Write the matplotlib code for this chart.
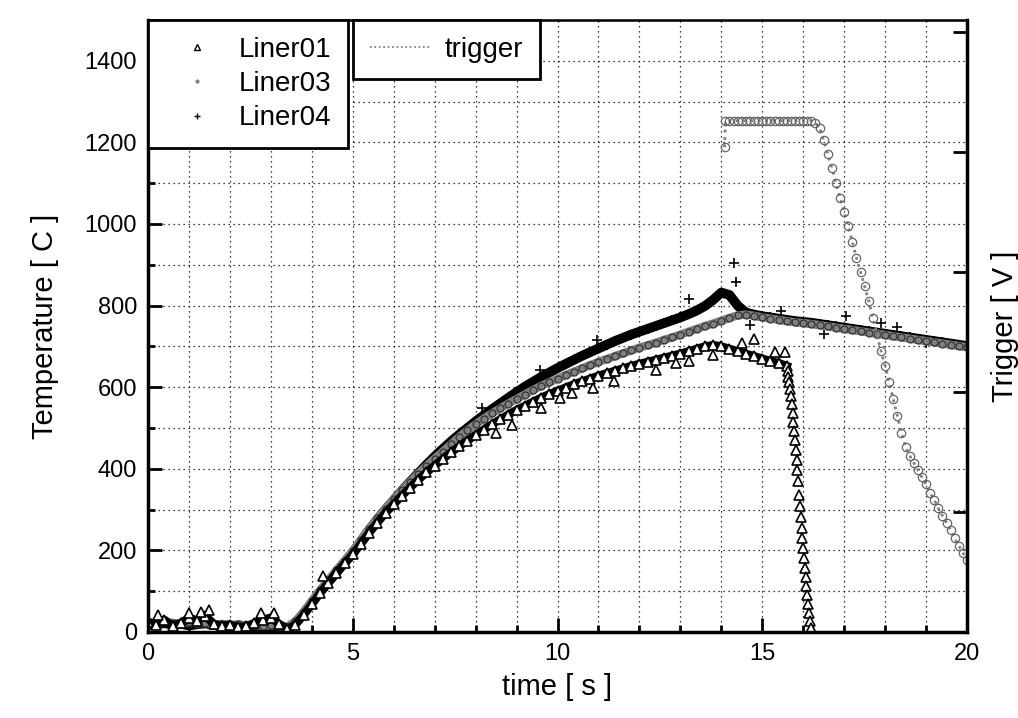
import numpy as np
import matplotlib
matplotlib.use("Agg")
import matplotlib.pyplot as plt
from matplotlib.lines import Line2D
from matplotlib.ticker import MultipleLocator, NullFormatter

plt.rcParams["font.family"] = ["Liberation Sans", "DejaVu Sans"]

# thermocouple readings, sampled every 0.2 s
t_grid = np.round(np.arange(0, 20.001, 0.2), 1)

liner04 = [20, 18, 22, 17, 20, 16, 19, 21, 17, 15,
           16, 14, 15, 13, 14, 12, 11, 10, 22, 45,
           72, 98, 122, 146, 170, 194, 222, 250, 276, 300,
           323, 346, 368, 389, 410, 430, 449, 467, 484, 500,
           516, 531, 546, 560, 574, 588, 601, 613, 625, 636,
           647, 657, 667, 677, 686, 695, 704, 713, 721, 729,
           736, 743, 750, 757, 764, 771, 779, 788, 799, 814,
           832, 826, 800, 783, 778, 774, 771, 768, 765, 762,
           760, 758, 755, 752, 749, 746, 743, 740, 737, 734,
           731, 728, 725, 722, 719, 716, 713, 710, 707, 704,
           701]

liner03 = [24, 20, 26, 22, 19, 25, 21, 23, 18, 20,
           17, 19, 16, 18, 15, 17, 14, 13, 26, 50,
           76, 102, 127, 151, 175, 199, 226, 253, 279, 302,
           325, 347, 368, 388, 407, 425, 442, 460, 478, 494,
           509, 523, 536, 548, 560, 571, 582, 593, 603, 612,
           621, 630, 638, 646, 654, 662, 669, 676, 683, 690,
           697, 703, 709, 716, 722, 729, 736, 743, 750, 756,
           763, 770, 776, 778, 775, 771, 768, 765, 762, 759,
           757, 755, 752, 749, 746, 743, 740, 737, 734, 731,
           728, 725, 722, 719, 716, 713, 710, 707, 704, 701,
           698]

# Liner01 until 15.6 s, then the fast drop
liner01 = [25, 18, 30, 15, 22, 35, 28, 40, 20, 15,
           18, 12, 14, 22, 30, 35, 20, 8, 18, 42,
           68, 95, 120, 145, 168, 190, 216, 243, 268, 292,
           313, 334, 354, 373, 391, 408, 424, 440, 455, 469,
           483, 496, 509, 521, 533, 544, 554, 564, 574, 583,
           591, 599, 607, 614, 621, 628, 634, 640, 646, 652,
           657, 662, 667, 672, 677, 682, 688, 694, 700, 703,
           700, 694, 688, 682, 676, 670, 664, 659, 652]
liner01_drop_t = [15.62, 15.64, 15.66, 15.68, 15.70, 15.72, 15.74, 15.76, 15.78, 15.80,
                  15.82, 15.84, 15.86, 15.88, 15.90, 15.92, 15.94, 15.96, 15.98, 16.00,
                  16.02, 16.04, 16.06, 16.08, 16.10, 16.12, 16.14, 16.16, 16.18]
liner01_drop_v = [640, 626, 612, 596, 578, 558, 536, 514, 492, 470,
                  446, 422, 396, 370, 335, 308, 282, 256, 230, 205,
                  181, 158, 135, 112, 90, 68, 47, 27, 10]

# scattered single readings off the main band
liner01_extra_t = [0.25, 1.0, 1.3, 1.5, 2.75, 3.07, 4.27, 8.5, 8.9, 9.6, 10.06, 10.35,
                   10.87, 11.37, 12.4, 12.9, 13.2, 13.8, 14.5, 14.8, 15.3, 15.55]
liner01_extra_v = [42, 46, 49, 54, 46, 46, 138, 488, 508, 549, 574, 587,
                   599, 614, 643, 660, 663, 680, 709, 717, 687, 687]
liner04_extra_t = [8.15, 9.57, 10.96, 13.2, 14.3, 14.36, 14.7, 15.45, 16.5, 17.05, 17.9, 18.3, 19.0]
liner04_extra_v = [550, 643, 716, 815, 905, 857, 752, 787, 730, 774, 757, 748, 709]

# trigger signal [V]
trigger_t = [14.08] + list(np.round(np.arange(14.1, 20.001, 0.1), 1))
trigger_v = [4.04,
             4.26, 4.26, 4.26, 4.26, 4.26, 4.26, 4.26, 4.26, 4.26, 4.26,
             4.26, 4.26, 4.26, 4.26, 4.26, 4.26, 4.26, 4.26, 4.26, 4.26,
             4.26, 4.26,
             4.24, 4.20, 4.10, 3.98, 3.87, 3.74, 3.62, 3.50, 3.38, 3.25,
             3.12, 3.00, 2.88, 2.76, 2.62, 2.48, 2.34, 2.22, 2.08, 1.94,
             1.80, 1.66, 1.54, 1.47, 1.41, 1.35, 1.29, 1.23, 1.16, 1.10,
             1.03, 0.97, 0.91, 0.85, 0.78, 0.72, 0.66, 0.60]

fig = plt.figure(figsize=(10.18, 7.18), dpi=100)
ax = fig.add_axes([148 / 1018, 86 / 718, 819 / 1018, 612 / 718])
ax2 = ax.twinx()

ax.plot(t_grid, liner04, color="k", lw=7, marker="+", ms=7, mew=1.3, zorder=3)
ax.plot(liner04_extra_t, liner04_extra_v, ls="none", marker="+", ms=7, mew=1.2, color="k", zorder=3)
ax.plot(t_grid, liner03, color="0.5", lw=6, marker="o", ms=5, mfc="none", mec="0.2", mew=0.9, zorder=4)
ax.plot(t_grid[:len(liner01)], liner01, color="k", lw=6, marker="^", ms=6.5, mfc="white", mec="k", mew=1.2, zorder=5)
ax.plot(liner01_drop_t, liner01_drop_v, ls="none", marker="^", ms=6.5, mfc="white", mec="k", mew=1.2, zorder=5)
ax.plot(liner01_extra_t, liner01_extra_v, ls="none", marker="^", ms=6.5, mfc="white", mec="k", mew=1.2, zorder=5)

ax2.plot(trigger_t, trigger_v, ls=":", lw=2, color="0.5", marker="o", ms=6, mfc="none", mec="0.4", mew=0.9)

ax.set_xlim(0, 20)
ax.set_ylim(0, 1500)
ax2.set_ylim(0, 5.1)
ax.xaxis.set_major_locator(MultipleLocator(5))
ax.xaxis.set_minor_locator(MultipleLocator(1))
ax.yaxis.set_major_locator(MultipleLocator(200))
ax.yaxis.set_minor_locator(MultipleLocator(100))
ax.tick_params(which="both", direction="in", width=2, top=False, right=False, labelsize=17, pad=8)
ax.tick_params(which="major", length=10)
ax.tick_params(which="minor", length=5)
ax2.set_yticks([0, 1, 2, 3, 4, 5])
ax2.yaxis.set_major_formatter(NullFormatter())
ax2.tick_params(direction="in", length=10, width=2)
ax.grid(which="both", linestyle=(0, (1, 3)), color="k", linewidth=0.9)
ax.set_axisbelow(True)

for side in ["left", "bottom", "right"]:
    ax2.spines[side].set_linewidth(2.5)
ax2.spines["top"].set_linewidth(1.8)

ax.set_xlabel("time [ s ]", fontsize=21, labelpad=6)
ax.set_ylabel("Temperature [ C ]", fontsize=21, labelpad=18)
ax2.set_ylabel("Trigger [ V ]", fontsize=21, labelpad=14)

h01 = Line2D([], [], ls="none", marker="^", ms=5, mfc="white", mec="k", mew=1)
h03 = Line2D([], [], ls="none", marker=".", ms=4, color="0.5")
h04 = Line2D([], [], ls="none", marker="+", ms=4, color="k")
leg1 = ax2.legend([h01, h03, h04], ["Liner01", "Liner03", "Liner04"], loc="upper left",
                  bbox_to_anchor=(0, 1), borderaxespad=0, fontsize=20, fancybox=False,
                  edgecolor="k", framealpha=1, borderpad=0.6, handlelength=2.3,
                  handletextpad=0.35, labelspacing=0.3)
leg1.get_frame().set_linewidth(2)
ax2.add_artist(leg1)

ht = Line2D([], [], ls=":", lw=1.2, color="0.45")
leg2 = ax2.legend([ht], ["trigger"], loc="upper left", bbox_to_anchor=(205 / 819, 1),
                  borderaxespad=0, fontsize=20, fancybox=False, edgecolor="k", framealpha=1,
                  borderpad=0.6, handlelength=2.2, handletextpad=0.5)
leg2.get_frame().set_linewidth(2)

fig.savefig("out.png", dpi=100)
